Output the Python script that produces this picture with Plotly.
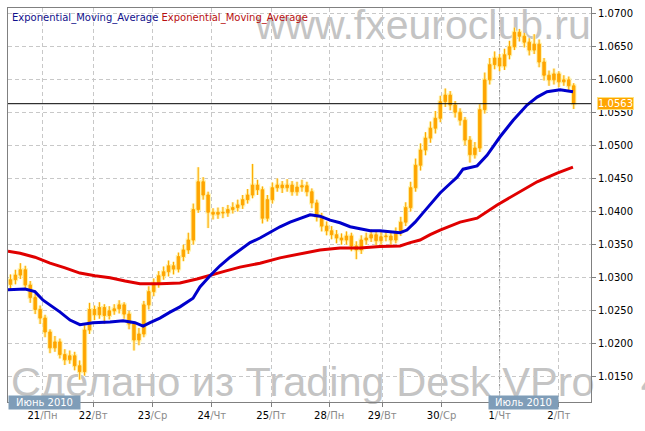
import plotly.graph_objects as go

# ---- data (2-hour bars, x = trading hour index) ----
bar_hour = list(range(1, 231, 2))

open_ = [1.0290, 1.0297, 1.0304, 1.0312, 1.0289, 1.0270, 1.0252, 1.0239, 1.0218, 1.0194,
         1.0203, 1.0184, 1.0176, 1.0182, 1.0167, 1.0158, 1.0221, 1.0252, 1.0244, 1.0255,
         1.0243, 1.0250, 1.0253, 1.0259, 1.0245, 1.0230, 1.0206, 1.0215, 1.0259, 1.0279,
         1.0292, 1.0303, 1.0309, 1.0318, 1.0313, 1.0332, 1.0342, 1.0357, 1.0403, 1.0445,
         1.0425, 1.0399, 1.0396, 1.0399, 1.0398, 1.0403, 1.0406, 1.0410, 1.0418, 1.0425,
         1.0440, 1.0433, 1.0390, 1.0418, 1.0436, 1.0440, 1.0436, 1.0440, 1.0430, 1.0437,
         1.0439, 1.0430, 1.0413, 1.0392, 1.0378, 1.0371, 1.0365, 1.0360, 1.0357, 1.0363,
         1.0348, 1.0342, 1.0357, 1.0360, 1.0365, 1.0356, 1.0362, 1.0363, 1.0357, 1.0369,
         1.0384, 1.0406, 1.0436, 1.0470, 1.0493, 1.0511, 1.0526, 1.0541, 1.0566, 1.0576,
         1.0561, 1.0550, 1.0538, 1.0508, 1.0486, 1.0496, 1.0554, 1.0599, 1.0622, 1.0632,
         1.0620, 1.0637, 1.0649, 1.0671, 1.0665, 1.0656, 1.0644, 1.0653, 1.0626, 1.0606,
         1.0599, 1.0608, 1.0596, 1.0599, 1.0590]

close = [1.0297, 1.0304, 1.0312, 1.0289, 1.0270, 1.0252, 1.0239, 1.0218, 1.0194, 1.0203,
         1.0184, 1.0176, 1.0182, 1.0167, 1.0158, 1.0221, 1.0252, 1.0244, 1.0255, 1.0243,
         1.0250, 1.0253, 1.0259, 1.0245, 1.0230, 1.0206, 1.0215, 1.0259, 1.0279, 1.0292,
         1.0303, 1.0309, 1.0318, 1.0313, 1.0332, 1.0342, 1.0357, 1.0403, 1.0445, 1.0425,
         1.0399, 1.0396, 1.0399, 1.0398, 1.0403, 1.0406, 1.0410, 1.0418, 1.0425, 1.0440,
         1.0433, 1.0390, 1.0418, 1.0436, 1.0440, 1.0436, 1.0440, 1.0430, 1.0437, 1.0439,
         1.0430, 1.0413, 1.0392, 1.0378, 1.0371, 1.0365, 1.0360, 1.0357, 1.0363, 1.0348,
         1.0342, 1.0357, 1.0360, 1.0365, 1.0356, 1.0362, 1.0363, 1.0357, 1.0369, 1.0384,
         1.0406, 1.0436, 1.0470, 1.0493, 1.0511, 1.0526, 1.0541, 1.0566, 1.0576, 1.0561,
         1.0550, 1.0538, 1.0508, 1.0486, 1.0496, 1.0554, 1.0599, 1.0622, 1.0632, 1.0620,
         1.0637, 1.0649, 1.0671, 1.0665, 1.0656, 1.0644, 1.0653, 1.0626, 1.0606, 1.0599,
         1.0608, 1.0596, 1.0599, 1.0590, 1.0563]

high = [1.0305, 1.0312, 1.0322, 1.0318, 1.0295, 1.0276, 1.0258, 1.0244, 1.0222, 1.0212,
        1.0208, 1.0192, 1.0190, 1.0188, 1.0175, 1.0228, 1.0262, 1.0258, 1.0263, 1.0260,
        1.0257, 1.0260, 1.0266, 1.0263, 1.0250, 1.0234, 1.0224, 1.0265, 1.0287, 1.0299,
        1.0310, 1.0317, 1.0326, 1.0324, 1.0338, 1.0350, 1.0368, 1.0412, 1.0467, 1.0452,
        1.0430, 1.0405, 1.0406, 1.0407, 1.0410, 1.0414, 1.0418, 1.0425, 1.0434, 1.0472,
        1.0448, 1.0438, 1.0425, 1.0444, 1.0450, 1.0446, 1.0449, 1.0446, 1.0445, 1.0448,
        1.0445, 1.0435, 1.0418, 1.0398, 1.0385, 1.0378, 1.0372, 1.0367, 1.0370, 1.0368,
        1.0355, 1.0364, 1.0368, 1.0373, 1.0370, 1.0370, 1.0371, 1.0369, 1.0376, 1.0392,
        1.0414, 1.0445, 1.0480, 1.0503, 1.0520, 1.0536, 1.0552, 1.0575, 1.0586, 1.0582,
        1.0567, 1.0556, 1.0543, 1.0514, 1.0505, 1.0562, 1.0610, 1.0632, 1.0642, 1.0638,
        1.0646, 1.0658, 1.0678, 1.0676, 1.0670, 1.0662, 1.0668, 1.0660, 1.0632, 1.0613,
        1.0616, 1.0612, 1.0606, 1.0604, 1.0594]

low = [1.0280, 1.0290, 1.0298, 1.0283, 1.0262, 1.0245, 1.0230, 1.0210, 1.0186, 1.0188,
       1.0178, 1.0168, 1.0170, 1.0160, 1.0146, 1.0152, 1.0215, 1.0236, 1.0238, 1.0230,
       1.0237, 1.0244, 1.0246, 1.0238, 1.0222, 1.0190, 1.0198, 1.0210, 1.0252, 1.0272,
       1.0285, 1.0297, 1.0302, 1.0305, 1.0308, 1.0325, 1.0336, 1.0350, 1.0398, 1.0418,
       1.0375, 1.0388, 1.0389, 1.0390, 1.0392, 1.0397, 1.0400, 1.0404, 1.0412, 1.0420,
       1.0425, 1.0382, 1.0385, 1.0412, 1.0430, 1.0428, 1.0430, 1.0424, 1.0424, 1.0430,
       1.0423, 1.0405, 1.0385, 1.0370, 1.0364, 1.0358, 1.0352, 1.0350, 1.0350, 1.0340,
       1.0328, 1.0336, 1.0350, 1.0354, 1.0349, 1.0350, 1.0355, 1.0350, 1.0352, 1.0363,
       1.0378, 1.0400, 1.0430, 1.0462, 1.0485, 1.0504, 1.0518, 1.0535, 1.0558, 1.0553,
       1.0542, 1.0530, 1.0500, 1.0474, 1.0480, 1.0490, 1.0548, 1.0592, 1.0615, 1.0612,
       1.0614, 1.0630, 1.0644, 1.0657, 1.0648, 1.0636, 1.0638, 1.0618, 1.0598, 1.0590,
       1.0592, 1.0588, 1.0590, 1.0582, 1.0555]

ema_fast_hour = [0.0, 6.9, 10.9, 14.2, 21.1, 25.1, 29.1, 34.4, 41.3, 46.6, 51.4, 54.7, 57.5,
                 61.5, 65.6, 69.6, 74.9, 77.7, 81.8, 85.8, 89.9, 93.9, 98.0, 102.0, 106.1,
                 110.1, 114.2, 118.2, 122.3, 126.3, 130.4, 134.4, 138.5, 142.5, 146.6, 150.6,
                 154.7, 158.7, 161.5, 164.8, 168.0, 170.9, 174.9, 178.9, 181.8, 184.2, 187.0,
                 189.9, 193.9, 199.2, 204.5, 210.1, 214.2, 218.2, 223.5, 228.7]
ema_fast = [1.0282, 1.0283, 1.0279, 1.0266, 1.0248, 1.0236, 1.0229, 1.0232, 1.0233, 1.0235,
            1.0232, 1.0227, 1.0232, 1.0239, 1.0248, 1.0256, 1.0269, 1.0286, 1.0303, 1.0318,
            1.0331, 1.0342, 1.0353, 1.0360, 1.0369, 1.0377, 1.0384, 1.0390, 1.0395, 1.0393,
            1.0387, 1.0383, 1.0377, 1.0374, 1.0371, 1.0371, 1.0369, 1.0368, 1.0372, 1.0384,
            1.0398, 1.0410, 1.0428, 1.0442, 1.0452, 1.0464, 1.0467, 1.0469, 1.0485, 1.0513,
            1.0538, 1.0561, 1.0573, 1.0581, 1.0584, 1.0581]

ema_slow_hour = [0.0, 4.9, 10.9, 17.0, 23.1, 29.1, 35.2, 41.3, 47.4, 53.4, 61.5, 69.6, 76.5,
                 81.8, 87.9, 93.9, 102.0, 110.1, 118.2, 126.3, 134.4, 142.5, 150.6, 158.7,
                 162.8, 166.8, 170.9, 174.9, 183.0, 189.9, 198.0, 207.3, 214.2, 222.3, 228.7]
ema_slow = [1.0340, 1.0337, 1.0331, 1.0322, 1.0315, 1.0307, 1.0303, 1.0300, 1.0295, 1.0291,
            1.0291, 1.0292, 1.0298, 1.0304, 1.0310, 1.0316, 1.0322, 1.0330, 1.0336, 1.0342,
            1.0345, 1.0345, 1.0347, 1.0348, 1.0353, 1.0357, 1.0365, 1.0372, 1.0384, 1.0390,
            1.0410, 1.0430, 1.0445, 1.0458, 1.0467]

tick_hours = [14, 34.5, 58.5, 82.5, 106.5, 130, 151.5, 175.5, 199, 223]
tick_days = ["21", "22", "23", "24", "25", "28", "29", "30", "1", "2"]
tick_weekdays = ["Пн", "Вт", "Ср", "Чт", "Пт", "Пн", "Вт", "Ср", "Чт", "Пт"]
price_ticks = [1.0150, 1.0200, 1.0250, 1.0300, 1.0350, 1.0400, 1.0450, 1.0500,
               1.0550, 1.0600, 1.0650, 1.0700]
month_labels = ["Июнь 2010", "Июль 2010"]
legend_names = ["Exponential_Moving_Average", "Exponential_Moving_Average"]

FONT = "DejaVu Sans"
ORANGE = "#FFA500"

fig = go.Figure()

# glow under candles
fig.add_trace(go.Candlestick(
    x=bar_hour, open=open_, high=high, low=low, close=close,
    increasing=dict(line=dict(color="#FFF2A8", width=3), fillcolor="#FFF2A8"),
    decreasing=dict(line=dict(color="#FFF2A8", width=3), fillcolor="#FFF2A8"),
    whiskerwidth=0, showlegend=False, hoverinfo="skip"))
fig.add_trace(go.Candlestick(
    x=bar_hour, open=open_, high=high, low=low, close=close,
    increasing=dict(line=dict(color=ORANGE, width=1), fillcolor=ORANGE),
    decreasing=dict(line=dict(color=ORANGE, width=1), fillcolor=ORANGE),
    whiskerwidth=0, showlegend=False))

fig.add_trace(go.Scatter(x=ema_slow_hour, y=ema_slow, mode="lines",
                         line=dict(color="#E00000", width=3), showlegend=False))
fig.add_trace(go.Scatter(x=ema_fast_hour, y=ema_fast, mode="lines",
                         line=dict(color="#0000CC", width=3), showlegend=False))

ticktext = [f"{d}<span style='color:#8a8a8a'>/{w}</span>" for d, w in zip(tick_days, tick_weekdays)]
ytext = [f"{v:.4f}" for v in price_ticks]

fig.update_layout(
    width=645, height=431,
    margin=dict(l=8, r=54, t=8, b=29),
    paper_bgcolor="white", plot_bgcolor="white",
    font=dict(family=FONT, size=10, color="#000000"),
    showlegend=False,
    xaxis=dict(
        range=[0, 236], tickmode="array", tickvals=tick_hours, ticktext=ticktext,
        showgrid=True, gridcolor="#C8C8C8", griddash="4px,3px", gridwidth=1,
        showline=True, mirror=True, linecolor="#808080", linewidth=1,
        ticks="outside", ticklen=4, tickcolor="#808080",
        rangeslider=dict(visible=False), zeroline=False,
        tickfont=dict(family=FONT, size=10, color="#000000"),
    ),
    yaxis=dict(
        side="right", range=[1.01122, 1.07076], tickmode="array",
        tickvals=price_ticks, ticktext=ytext,
        showgrid=True, gridcolor="#C8C8C8", griddash="4px,3px",
        gridwidth=1, showline=True, mirror=True, linecolor="#808080", linewidth=1,
        ticks="outside", ticklen=4, tickcolor="#808080", zeroline=False,
        tickfont=dict(family=FONT, size=10, color="#000000"),
    ),
)

# watermarks (below the data)
fig.add_shape(type="rect", xref="paper", yref="paper", x0=0.3, x1=1.01, y0=0.91, y1=1.022,
              line=dict(width=0), fillcolor="rgba(0,0,0,0)", layer="below",
              label=dict(text="www.fxeuroclub.ru", textposition="middle right",
                         font=dict(family="Liberation Sans", size=41, color="#C4C4C4")))
fig.add_shape(type="rect", xref="paper", yref="paper", x0=-0.005, x1=1.0, y0=0.015, y1=0.105,
              line=dict(width=0), fillcolor="rgba(0,0,0,0)", layer="below",
              label=dict(text="Сделано из Trading Desk VPro\u00a0\u00a0\u00a0 4",
                         textposition="middle left",
                         font=dict(family="Liberation Sans", size=41.5, color="#C4C4C4")))

# darker month gridline
fig.add_shape(type="line", xref="x", yref="paper", x0=tick_hours[8], x1=tick_hours[8],
              y0=0, y1=1, line=dict(color="#8C8C8C", width=1, dash="4px,3px"), layer="below")

# last price line
fig.add_shape(type="line", xref="paper", yref="y", x0=0, x1=1, y0=close[-1], y1=close[-1],
              line=dict(color="#000000", width=1))

# legend text
fig.add_annotation(xref="paper", yref="paper", x=0, y=1, xanchor="left", yanchor="top",
                   xshift=2, yshift=-2, showarrow=False,
                   text=f"<span style='color:#10108C'>{legend_names[0]}</span> "
                        f"<span style='color:#B81010'>{legend_names[1]}</span>",
                   font=dict(family=FONT, size=10))

# month labels
fig.add_annotation(xref="paper", yref="paper", x=0, y=0, xanchor="left", yanchor="middle",
                   showarrow=False, text=month_labels[0], width=69, borderpad=1,
                   bgcolor="#7F9DB8", font=dict(family=FONT, size=10, color="white"))
fig.add_annotation(xref="x", yref="paper", x=tick_hours[8], y=0, xanchor="left",
                   yanchor="middle", xshift=-12, showarrow=False, text=month_labels[1],
                   width=67, borderpad=1, bgcolor="#7F9DB8",
                   font=dict(family=FONT, size=10, color="white"))

# current price label
fig.add_annotation(xref="paper", yref="y", x=1, y=close[-1], xanchor="left", yanchor="middle",
                   xshift=6, showarrow=False, text=f"{close[-1]:.4f}", bgcolor=ORANGE,
                   borderpad=0, bordercolor="#FFE27A", borderwidth=1,
                   font=dict(family=FONT, size=10, color="white"))

fig.write_html("out.html", config={"displayModeBar": False},
               post_script="document.body.style.margin='0px';")
